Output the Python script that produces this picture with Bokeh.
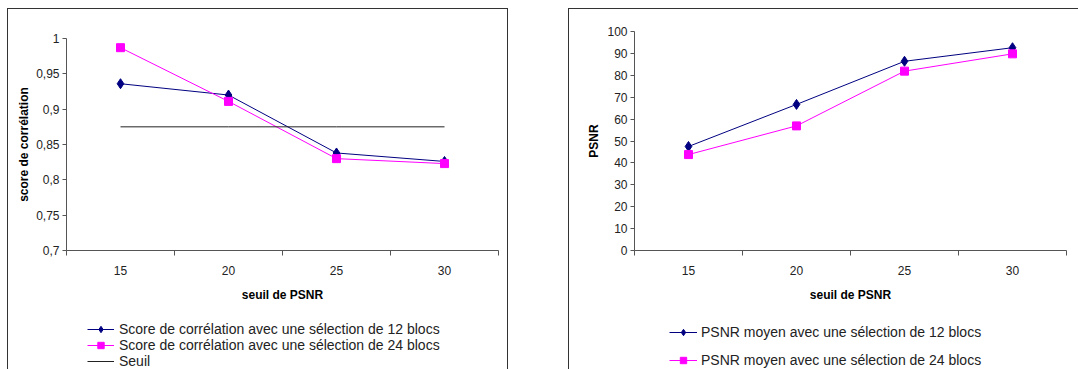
from bokeh.plotting import figure
from bokeh.models import FixedTicker, Legend, LegendItem, Range1d, InlineStyleSheet
from bokeh.layouts import row, column
from bokeh.embed import file_html
from bokeh.resources import INLINE

# ---- data ----
seuils = [15, 20, 25, 30]
x_tick_labels = ["15", "20", "25", "30"]
x_boundaries = [12.5, 17.5, 22.5, 27.5, 32.5]

corr_12 = [0.936, 0.920, 0.838, 0.826]
corr_24 = [0.987, 0.911, 0.830, 0.823]
seuil = [0.875, 0.875, 0.875, 0.875]
corr_ticks = [0.7, 0.75, 0.8, 0.85, 0.9, 0.95, 1.0]
corr_tick_labels = ["0,7", "0,75", "0,8", "0,85", "0,9", "0,95", "1"]

psnr_12 = [47.5, 66.7, 86.4, 92.6]
psnr_24 = [43.8, 56.9, 81.9, 89.8]
psnr_ticks = [0, 10, 20, 30, 40, 50, 60, 70, 80, 90, 100]
psnr_tick_labels = ["0", "10", "20", "30", "40", "50", "60", "70", "80", "90", "100"]

legend_left = ["Score de corrélation avec une sélection de 12 blocs",
               "Score de corrélation avec une sélection de 24 blocs",
               "Seuil"]
legend_right = ["PSNR moyen avec une sélection de 12 blocs",
                "PSNR moyen avec une sélection de 24 blocs"]

FONT = "Liberation Sans"
NAVY = "#000080"
MAGENTA = "#FF00FF"
AXIS = "#555555"


def box_css(left, top, width, height):
    return InlineStyleSheet(css=(
        ":host { position: relative; overflow: hidden; }"
        ":host::after { content: ''; position: absolute; "
        f"left: {left}px; top: {top}px; width: {width}px; height: {height}px; "
        "border: 1px solid #333333; box-sizing: border-box; "
        "pointer-events: none; z-index: 10; }"))


def style_axes(p, yticks, ylabels, ylabel, ylabel_standoff):
    p.xgrid.visible = False
    p.ygrid.visible = False
    p.outline_line_color = None
    xa = p.xaxis[0]
    xa.ticker = FixedTicker(ticks=seuils, minor_ticks=x_boundaries)
    xa.major_label_overrides = {s: l for s, l in zip(seuils, x_tick_labels)}
    xa.major_tick_out = 0
    xa.major_tick_in = 0
    xa.minor_tick_out = 5
    xa.minor_tick_in = 0
    xa.minor_tick_line_color = AXIS
    xa.axis_line_color = AXIS
    xa.major_label_standoff = 10
    xa.axis_label = "seuil de PSNR"
    xa.axis_label_standoff = 10
    ya = p.yaxis[0]
    ya.ticker = FixedTicker(ticks=yticks, minor_ticks=[])
    ya.major_label_overrides = {t: l for t, l in zip(yticks, ylabels)}
    ya.major_tick_out = 4
    ya.major_tick_in = 0
    ya.major_tick_line_color = AXIS
    ya.axis_line_color = AXIS
    ya.major_label_standoff = 3
    ya.axis_label = ylabel
    ya.axis_label_standoff = ylabel_standoff
    for ax in (xa, ya):
        ax.major_label_text_font = FONT
        ax.major_label_text_font_size = "12px"
        ax.major_label_text_color = "#222222"
        ax.axis_label_text_font = FONT
        ax.axis_label_text_font_size = "12px"
        ax.axis_label_text_font_style = "bold"
        ax.axis_label_text_color = "#000000"


def legend_fig(width, stylesheet):
    lf = figure(width=width, height=53, output_backend="svg", toolbar_location=None,
                x_range=Range1d(0, 1), y_range=Range1d(0, 1),
                x_axis_type=None, y_axis_type=None,
                min_border=0, stylesheets=[stylesheet])
    lf.xgrid.visible = False
    lf.ygrid.visible = False
    lf.outline_line_color = None
    return lf


# ---- left chart ----
pl = figure(width=568, height=316, output_backend="svg", toolbar_location=None,
            x_range=Range1d(12.5, 32.5), y_range=Range1d(0.7, 1.0),
            min_border_left=66, min_border_right=70, min_border_top=38, min_border_bottom=66,
            stylesheets=[box_css(7, 8, 501, 309)])
style_axes(pl, corr_ticks, corr_tick_labels, "score de corrélation", 2)

pl.line(seuils, corr_12, line_color=NAVY, line_width=1)
pl.scatter(seuils, corr_12, marker="diamond", size=10, fill_color=NAVY, line_color=NAVY)
pl.line(seuils, corr_24, line_color=MAGENTA, line_width=1)
pl.scatter(seuils, corr_24, marker="square", size=8, fill_color=MAGENTA, line_color=MAGENTA)
pl.line(seuils, seuil, line_color="#222222", line_width=1)

# legend panel (series drawn out of its visible range, used only for the key)
ll = legend_fig(568, box_css(7, -1, 501, 80))
a1 = ll.line(seuils, corr_12, line_color=NAVY, line_width=1)
b1 = ll.scatter(seuils, corr_12, marker="diamond", size=10, fill_color=NAVY, line_color=NAVY)
a2 = ll.line(seuils, corr_24, line_color=MAGENTA, line_width=1)
b2 = ll.scatter(seuils, corr_24, marker="square", size=8, fill_color=MAGENTA, line_color=MAGENTA)
a3 = ll.line(seuils, seuil, line_color="#222222", line_width=1)
ll.add_layout(Legend(items=[LegendItem(label=legend_left[0], renderers=[a1, b1]),
                            LegendItem(label=legend_left[1], renderers=[a2, b2]),
                            LegendItem(label=legend_left[2], renderers=[a3])],
                     location=(21, 0), padding=0, margin=0, spacing=0,
                     glyph_width=27, glyph_height=16, label_height=16, label_standoff=5,
                     label_text_font=FONT, label_text_font_size="14px",
                     label_text_color="#222222",
                     background_fill_alpha=0, border_line_color=None))

# ---- right chart ----
pr = figure(width=510, height=316, output_backend="svg", toolbar_location=None,
            x_range=Range1d(12.5, 32.5), y_range=Range1d(0, 100),
            min_border_left=66, min_border_right=12, min_border_top=31, min_border_bottom=66,
            stylesheets=[box_css(0, 8, 560, 309)])
style_axes(pr, psnr_ticks, psnr_tick_labels, "PSNR", 3)

pr.line(seuils, psnr_12, line_color=NAVY, line_width=1)
pr.scatter(seuils, psnr_12, marker="diamond", size=10, fill_color=NAVY, line_color=NAVY)
pr.line(seuils, psnr_24, line_color=MAGENTA, line_width=1)
pr.scatter(seuils, psnr_24, marker="square", size=8, fill_color=MAGENTA, line_color=MAGENTA)

lr = legend_fig(510, box_css(0, -1, 560, 80))
c1 = lr.line(seuils, psnr_12, line_color=NAVY, line_width=1)
d1 = lr.scatter(seuils, psnr_12, marker="diamond", size=10, fill_color=NAVY, line_color=NAVY)
c2 = lr.line(seuils, psnr_24, line_color=MAGENTA, line_width=1)
d2 = lr.scatter(seuils, psnr_24, marker="square", size=8, fill_color=MAGENTA, line_color=MAGENTA)
lr.add_layout(Legend(items=[LegendItem(label=legend_right[0], renderers=[c1, d1]),
                            LegendItem(label=legend_right[1], renderers=[c2, d2])],
                     location=(35, 1), padding=0, margin=0, spacing=12,
                     glyph_width=28, glyph_height=16, label_height=16, label_standoff=4,
                     label_text_font=FONT, label_text_font_size="14px",
                     label_text_color="#222222",
                     background_fill_alpha=0, border_line_color=None))

layout = row(column(pl, ll, spacing=0), column(pr, lr, spacing=0), spacing=0)
open("out.html", "w").write(file_html(layout, INLINE))
